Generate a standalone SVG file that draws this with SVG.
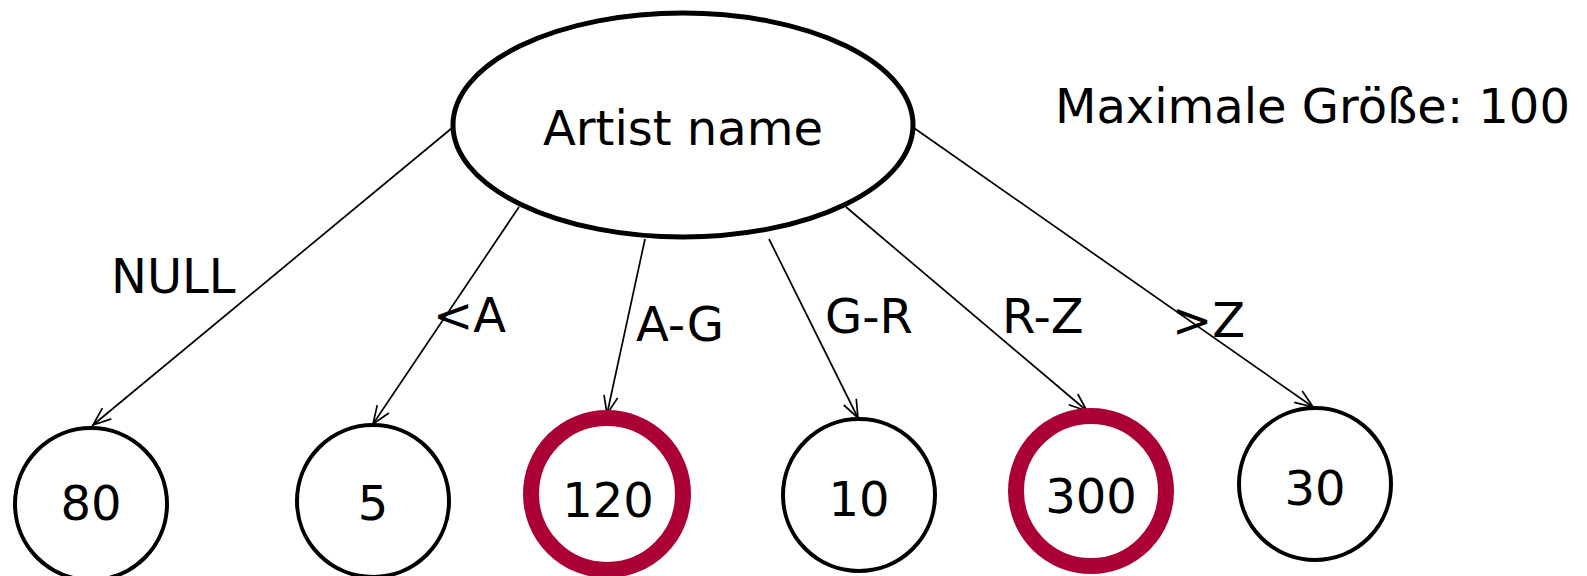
<svg xmlns="http://www.w3.org/2000/svg" width="1587" height="576" viewBox="0 0 1587 576">
  <style>
    text { font-family: "DejaVu Sans", Verdana, sans-serif; font-size: 48px; fill: #000; }
    .node { fill: #fff; stroke: #000; stroke-width: 4; }
    .root { fill: #fff; stroke: #000; stroke-width: 5; }
    .hot { fill: #fff; stroke: #ab0033; stroke-width: 16; }
    .edge { stroke: #000; stroke-width: 1.7; fill: none; marker-end: url(#arrow); }
    .mid { text-anchor: middle; }
  </style>
  <defs>
    <marker id="arrow" markerUnits="userSpaceOnUse" markerWidth="24" markerHeight="20" viewBox="-20 -10 22 20" refX="0" refY="0" orient="auto" overflow="visible">
      <path d="M -18 -7 L 0 0 L -18 7" fill="none" stroke="#000" stroke-width="1.7"/>
    </marker>
  </defs>

  <!-- connectors from the root to the buckets -->
  <g id="connectors">
    <line class="edge" x1="452" y1="128" x2="93" y2="425"/>
    <line class="edge" x1="519" y1="207" x2="373" y2="424"/>
    <line class="edge" x1="645" y1="239" x2="607" y2="414"/>
    <line class="edge" x1="769" y1="239" x2="858" y2="418"/>
    <line class="edge" x1="846" y1="207" x2="1087" y2="411"/>
    <line class="edge" x1="914" y1="128" x2="1313" y2="407"/>
  </g>

  <!-- edge labels -->
  <g id="labels">
    <text x="111" y="293">NULL</text>
    <text x="433" y="332">&lt;A</text>
    <text x="636" y="341">A-G</text>
    <text x="825" y="333">G-R</text>
    <text x="1002" y="333">R-Z</text>
    <text x="1172" y="337">&gt;Z</text>
  </g>

  <g id="root">
    <ellipse class="root" cx="683" cy="125" rx="230" ry="112"/>
    <text class="mid" x="683" y="145">Artist name</text>
  </g>

  <g id="note">
    <text x="1055" y="123">Maximale Größe: 100</text>
  </g>

  <g id="b-null">
    <circle class="node" cx="91" cy="504" r="76"/>
    <text class="mid" x="91" y="520">80</text>
  </g>
  <g id="b-lt-a">
    <circle class="node" cx="373" cy="501" r="76"/>
    <text class="mid" x="373" y="520">5</text>
  </g>
  <g id="b-a-g">
    <circle class="hot" cx="607" cy="494" r="76"/>
    <text class="mid" x="608" y="517">120</text>
  </g>
  <g id="b-g-r">
    <circle class="node" cx="859" cy="495" r="76"/>
    <text class="mid" x="859" y="516">10</text>
  </g>
  <g id="b-r-z">
    <circle class="hot" cx="1091" cy="491" r="75"/>
    <text class="mid" x="1091" y="513">300</text>
  </g>
  <g id="b-gt-z">
    <circle class="node" cx="1315" cy="484" r="76"/>
    <text class="mid" x="1315" y="505">30</text>
  </g>
</svg>
